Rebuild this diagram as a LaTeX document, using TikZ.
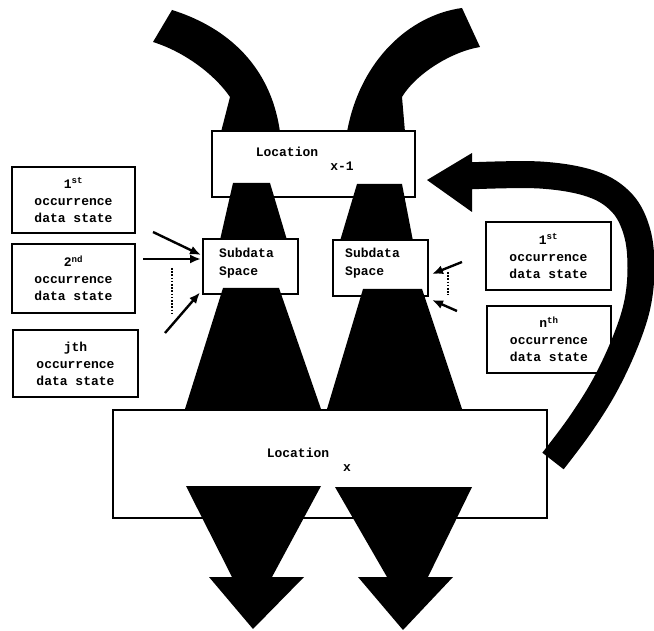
\documentclass[tikz,border=0pt]{standalone}
\usepackage{fontspec}
\setmonofont{Liberation Mono}
\usetikzlibrary{arrows.meta,calc}
\begin{document}
\begin{tikzpicture}[x=1pt,y=-1pt,
  box/.style={draw, line width=2pt, fill=white, inner sep=0pt},
  txt/.style={font=\ttfamily\bfseries\fontsize{13}{17}\selectfont, inner sep=0pt, align=center},
  stub/.style={draw, line width=2.4pt, -{Latex[length=11pt,width=9pt]}},
  dots/.style={line width=2.2pt, dash pattern=on 1.6pt off 1.6pt},
  blob/.style={fill=black}]
\useasboundingbox (0,0) rectangle (654,631);

% incoming curved flows above location x-1
\fill[blob] (172,10) .. controls (220,25) and (270,60) .. (280,132) -- (221,132)
  -- (230,97) .. controls (215,75) and (185,52) .. (153,42) -- cycle;
\fill[blob] (462,8) .. controls (410,15) and (360,60) .. (347,132) -- (405,132)
  -- (402,97) .. controls (415,75) and (450,52) .. (480,47) -- cycle;

% location and subdata boxes
\node[box, minimum width=203pt, minimum height=66pt] (locA) at (313.5,164) {};
\node[box, minimum width=95pt, minimum height=55pt] (sdL) at (250.5,267) {};
\node[box, minimum width=95pt, minimum height=56pt] (sdR) at (380.5,268) {};
\node[box, minimum width=434pt, minimum height=108pt] (locB) at (330,464) {};

% occurrence data state boxes
\node[box, txt, minimum width=123pt, minimum height=66pt] (L1) at (73.5,200)
  {1\textsuperscript{st}\\occurrence\\data state};
\node[box, txt, minimum width=123pt, minimum height=69pt] (L2) at (73.5,278.5)
  {2\textsuperscript{nd}\\occurrence\\data state};
\node[box, txt, minimum width=125pt, minimum height=67pt] (L3) at (75.5,363.5)
  {jth\\occurrence\\data state};
\node[box, txt, minimum width=125pt, minimum height=68pt] (R1) at (548.5,256)
  {1\textsuperscript{st}\\occurrence\\data state};
\node[box, txt, minimum width=124pt, minimum height=67pt] (R2) at (549,339.5)
  {n\textsuperscript{th}\\occurrence\\data state};

% box labels
\node[txt] (tA1) at (287,152) {Location};
\node[txt] (tA2) at (342,166) {x-1};
\node[txt, anchor=west] (tS1) at (219,253) {Subdata};
\node[txt, anchor=west] (tS2) at (219,273) {Space};
\node[txt, anchor=west] (tS3) at (345,253) {Subdata};
\node[txt, anchor=west] (tS4) at (345,273) {Space};
\node[txt] (tB1) at (298,453) {Location};
\node[txt] (tB2) at (347,468) {x};

% flows between the boxes
\fill[blob] (233,183) -- (270,183) -- (287,240) -- (220,240) -- cycle;
\fill[blob] (357,184) -- (402,184) -- (413,241) -- (340,241) -- cycle;
\fill[blob] (223,288) -- (279,288) -- (321,409) -- (185,409) -- cycle;
\fill[blob] (363,289) -- (422,289) -- (462,409) -- (327,409) -- cycle;

% outgoing arrows below location x
\fill[blob] (186,486) -- (321,486) -- (272,577) -- (304,577) -- (253,629)
  -- (209,577) -- (232,577) -- cycle;
\fill[blob] (335,487) -- (472,487) -- (428,577) -- (453,577) -- (403,630)
  -- (358,577) -- (387,577) -- cycle;

% feedback arrow from location x back to location x-1
\coordinate (fbEnd) at (553,461);
\draw[line width=27pt] plot[smooth, tension=0.6] coordinates
  {(466,176) (540,175) (592,184) (622,203) (637,232) (641,268) (637,306)
   (624,345) (604,387) (580,425) (fbEnd)};
\fill[blob] (427,180) -- (472,153) -- (472,212) -- cycle;

% data state inputs on the left subdata space
\coordinate (a1) at (153,232);
\coordinate (a2) at (143,259);
\coordinate (a3) at (165,333);
\draw[stub] (a1) -- ($(sdL.west)+(-1,-12)$);
\draw[stub] (a2) -- ($(sdL.west)+(-1,-8)$);
\draw[stub] (a3) -- ($(sdL.south west)+(-2,-3)$);
\coordinate (d1) at (172,268);
\coordinate (d2) at (172,313);
\draw[dots] (d1) -- (d2);

% data state inputs on the right subdata space
\coordinate (b1) at (462,262);
\coordinate (b2) at (457,311);
\draw[stub] (b1) -- ($(sdR.east)+(3,6)$);
\draw[stub] (b2) -- ($(sdR.south east)+(3,3)$);
\coordinate (e1) at (448,272);
\coordinate (e2) at (448,295);
\draw[dots] (e1) -- (e2);
\end{tikzpicture}
\end{document}
